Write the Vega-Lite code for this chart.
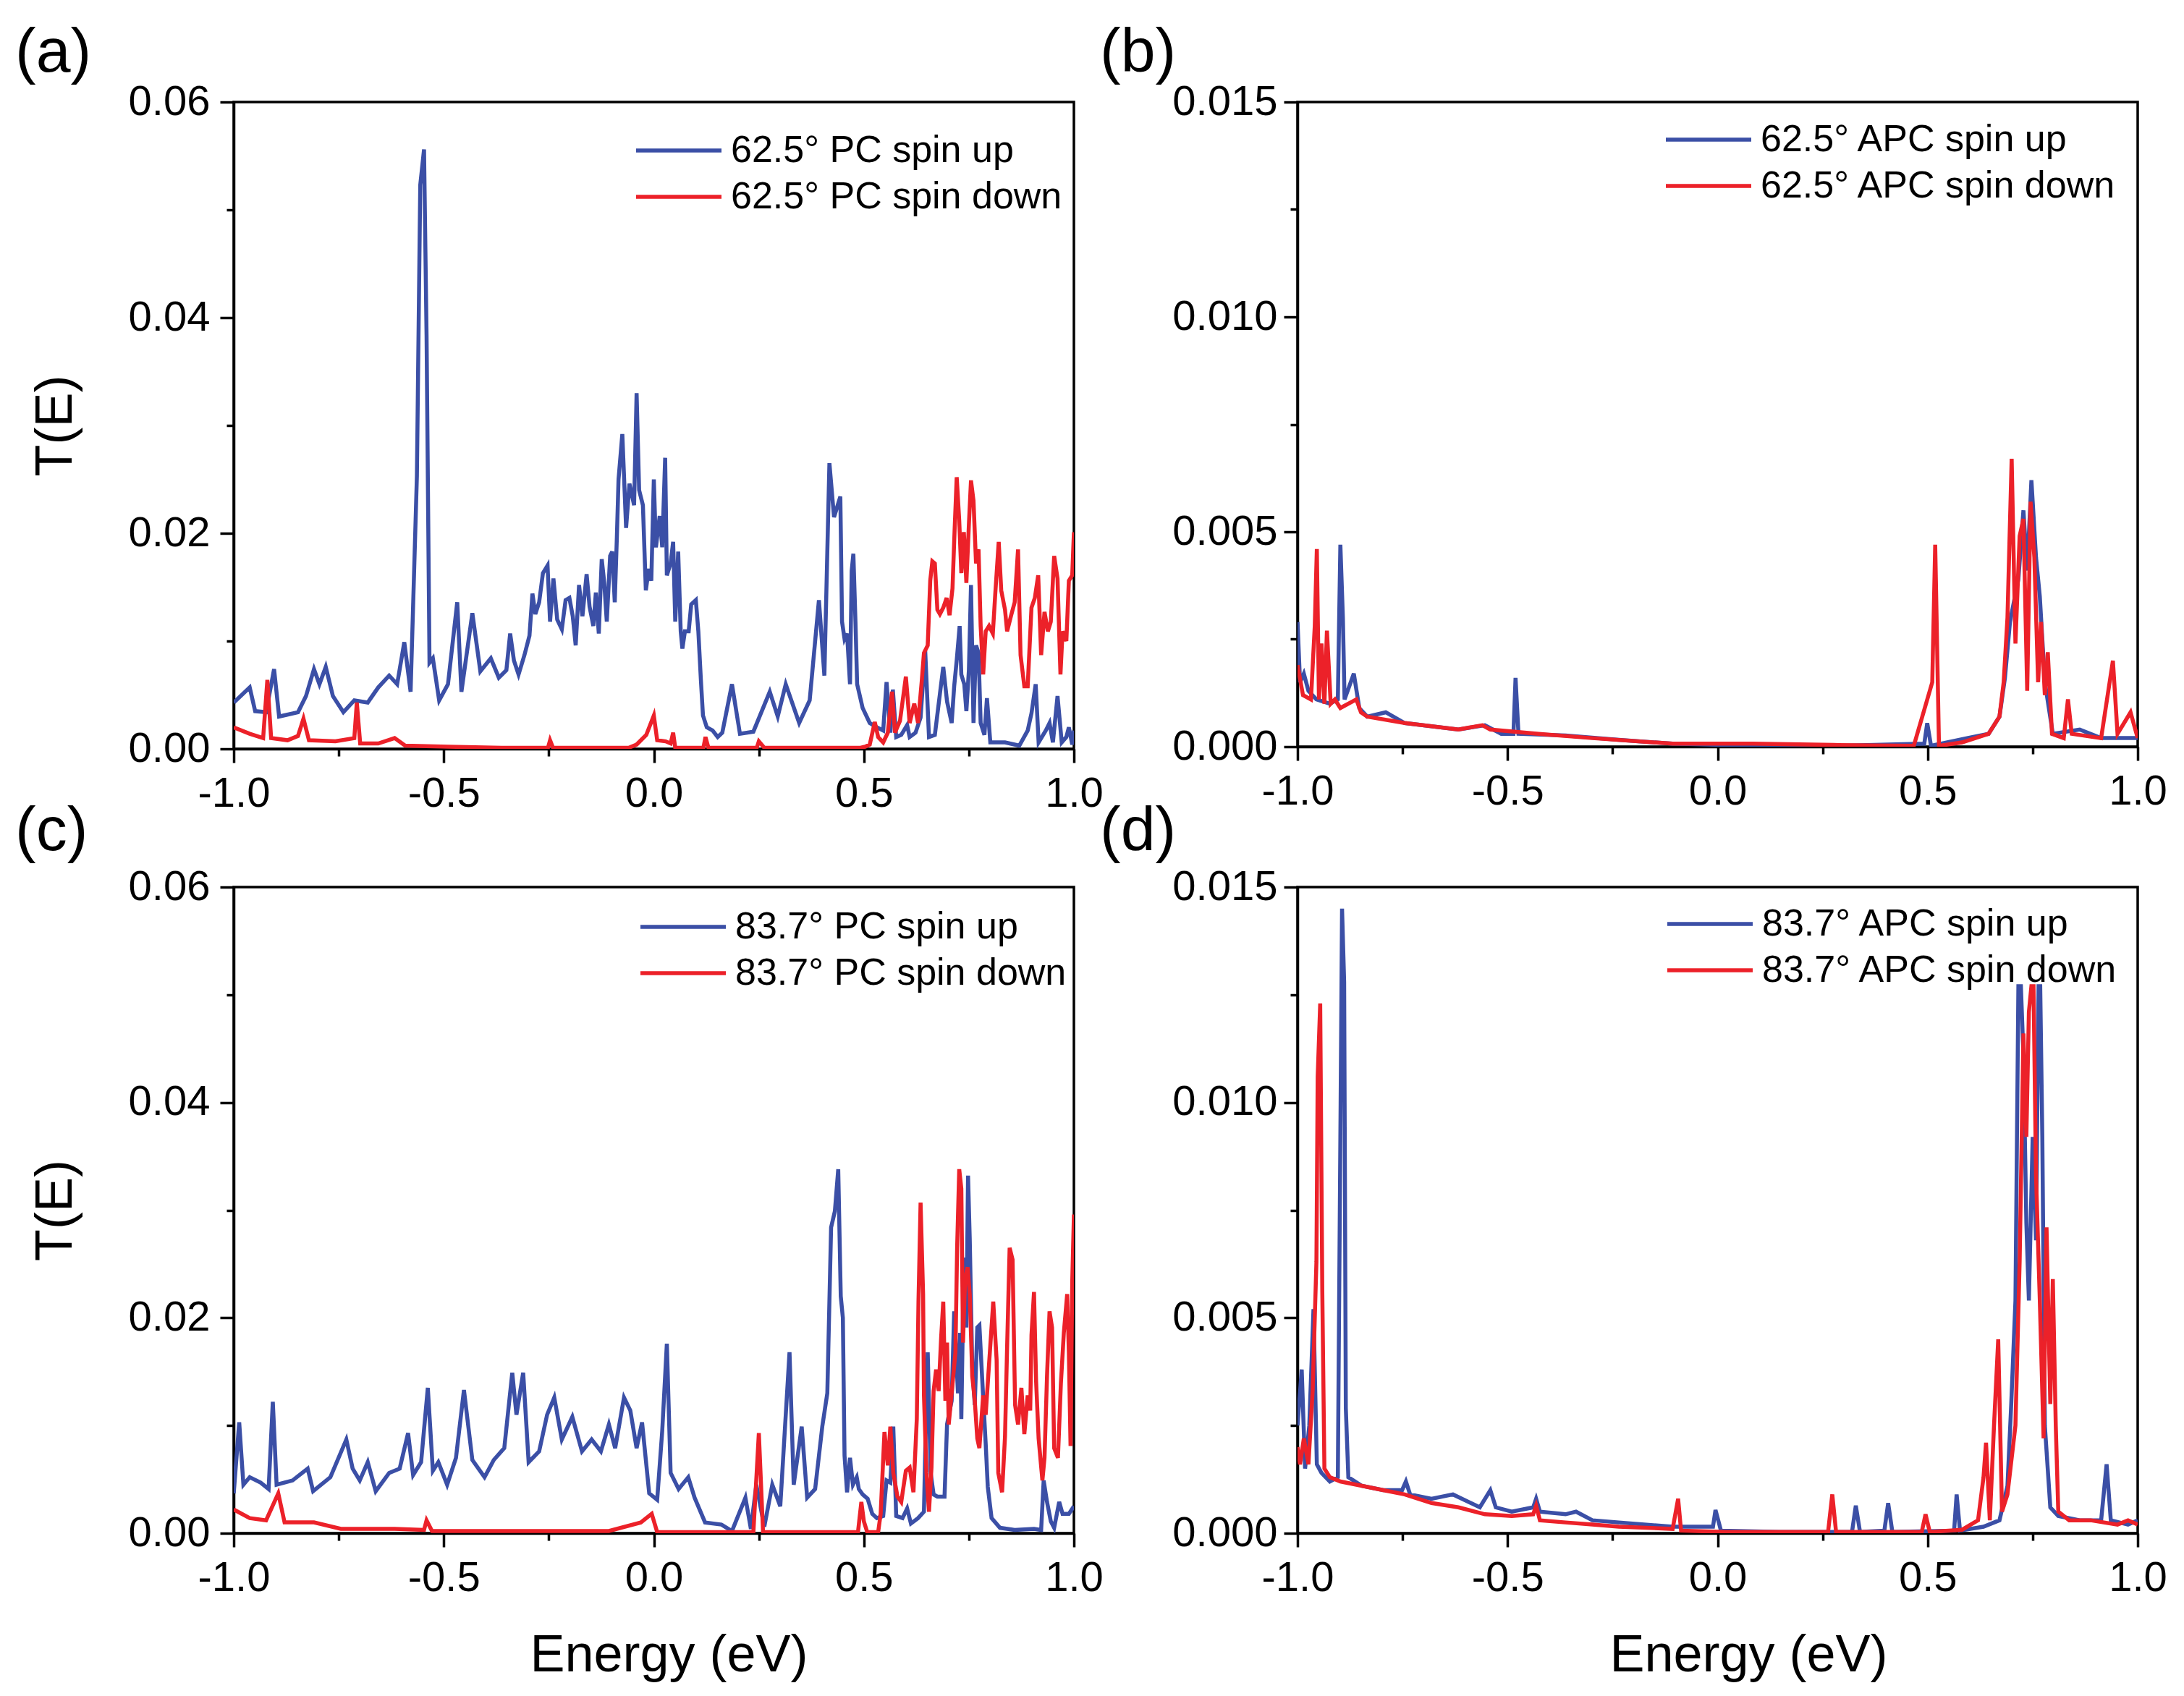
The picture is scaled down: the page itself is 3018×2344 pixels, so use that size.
{
  "$schema": "https://vega.github.io/schema/vega-lite/v6.json",
  "background": "white",
  "padding": {"left": 19, "top": 28, "right": 10, "bottom": 10},
  "datasets": {
    "pa": [
      {"E": -1.000, "T": 0.0043, "s": "up"}, {"E": -0.962, "T": 0.0057, "s": "up"}, {"E": -0.949, "T": 0.0035, "s": "up"},
      {"E": -0.923, "T": 0.0034, "s": "up"}, {"E": -0.904, "T": 0.0074, "s": "up"}, {"E": -0.892, "T": 0.0030, "s": "up"},
      {"E": -0.847, "T": 0.0034, "s": "up"}, {"E": -0.828, "T": 0.0049, "s": "up"}, {"E": -0.809, "T": 0.0074, "s": "up"},
      {"E": -0.796, "T": 0.0060, "s": "up"}, {"E": -0.781, "T": 0.0076, "s": "up"}, {"E": -0.764, "T": 0.0049, "s": "up"},
      {"E": -0.739, "T": 0.0034, "s": "up"}, {"E": -0.713, "T": 0.0045, "s": "up"}, {"E": -0.681, "T": 0.0043, "s": "up"},
      {"E": -0.656, "T": 0.0057, "s": "up"}, {"E": -0.630, "T": 0.0068, "s": "up"}, {"E": -0.611, "T": 0.0060, "s": "up"},
      {"E": -0.594, "T": 0.0099, "s": "up"}, {"E": -0.579, "T": 0.0053, "s": "up"}, {"E": -0.564, "T": 0.0253, "s": "up"},
      {"E": -0.556, "T": 0.0523, "s": "up"}, {"E": -0.547, "T": 0.0556, "s": "up"}, {"E": -0.541, "T": 0.0384, "s": "up"},
      {"E": -0.534, "T": 0.0080, "s": "up"}, {"E": -0.526, "T": 0.0084, "s": "up"}, {"E": -0.511, "T": 0.0045, "s": "up"},
      {"E": -0.490, "T": 0.0060, "s": "up"}, {"E": -0.468, "T": 0.0136, "s": "up"}, {"E": -0.458, "T": 0.0053, "s": "up"},
      {"E": -0.432, "T": 0.0126, "s": "up"}, {"E": -0.413, "T": 0.0072, "s": "up"}, {"E": -0.388, "T": 0.0084, "s": "up"},
      {"E": -0.369, "T": 0.0066, "s": "up"}, {"E": -0.351, "T": 0.0073, "s": "up"}, {"E": -0.342, "T": 0.0107, "s": "up"},
      {"E": -0.333, "T": 0.0082, "s": "up"}, {"E": -0.322, "T": 0.0069, "s": "up"}, {"E": -0.308, "T": 0.0087, "s": "up"},
      {"E": -0.296, "T": 0.0105, "s": "up"}, {"E": -0.289, "T": 0.0144, "s": "up"}, {"E": -0.282, "T": 0.0125, "s": "up"},
      {"E": -0.273, "T": 0.0136, "s": "up"}, {"E": -0.264, "T": 0.0163, "s": "up"}, {"E": -0.253, "T": 0.0170, "s": "up"},
      {"E": -0.247, "T": 0.0118, "s": "up"}, {"E": -0.239, "T": 0.0158, "s": "up"}, {"E": -0.230, "T": 0.0120, "s": "up"},
      {"E": -0.219, "T": 0.0111, "s": "up"}, {"E": -0.210, "T": 0.0138, "s": "up"}, {"E": -0.201, "T": 0.0140, "s": "up"},
      {"E": -0.193, "T": 0.0123, "s": "up"}, {"E": -0.186, "T": 0.0096, "s": "up"}, {"E": -0.178, "T": 0.0152, "s": "up"},
      {"E": -0.170, "T": 0.0123, "s": "up"}, {"E": -0.160, "T": 0.0162, "s": "up"}, {"E": -0.153, "T": 0.0132, "s": "up"},
      {"E": -0.144, "T": 0.0114, "s": "up"}, {"E": -0.138, "T": 0.0145, "s": "up"}, {"E": -0.131, "T": 0.0107, "s": "up"},
      {"E": -0.124, "T": 0.0176, "s": "up"}, {"E": -0.118, "T": 0.0154, "s": "up"}, {"E": -0.112, "T": 0.0118, "s": "up"},
      {"E": -0.104, "T": 0.0179, "s": "up"}, {"E": -0.099, "T": 0.0183, "s": "up"}, {"E": -0.093, "T": 0.0136, "s": "up"},
      {"E": -0.088, "T": 0.0196, "s": "up"}, {"E": -0.084, "T": 0.0250, "s": "up"}, {"E": -0.075, "T": 0.0292, "s": "up"},
      {"E": -0.066, "T": 0.0205, "s": "up"}, {"E": -0.058, "T": 0.0246, "s": "up"}, {"E": -0.047, "T": 0.0226, "s": "up"},
      {"E": -0.041, "T": 0.0330, "s": "up"}, {"E": -0.035, "T": 0.0240, "s": "up"}, {"E": -0.026, "T": 0.0226, "s": "up"},
      {"E": -0.019, "T": 0.0147, "s": "up"}, {"E": -0.012, "T": 0.0167, "s": "up"}, {"E": -0.006, "T": 0.0156, "s": "up"},
      {"E": 0.000, "T": 0.0250, "s": "up"}, {"E": 0.005, "T": 0.0187, "s": "up"}, {"E": 0.014, "T": 0.0216, "s": "up"},
      {"E": 0.020, "T": 0.0187, "s": "up"}, {"E": 0.027, "T": 0.0270, "s": "up"}, {"E": 0.031, "T": 0.0161, "s": "up"},
      {"E": 0.040, "T": 0.0172, "s": "up"}, {"E": 0.046, "T": 0.0192, "s": "up"}, {"E": 0.051, "T": 0.0118, "s": "up"},
      {"E": 0.058, "T": 0.0183, "s": "up"}, {"E": 0.064, "T": 0.0109, "s": "up"}, {"E": 0.068, "T": 0.0093, "s": "up"},
      {"E": 0.074, "T": 0.0109, "s": "up"}, {"E": 0.083, "T": 0.0109, "s": "up"}, {"E": 0.089, "T": 0.0134, "s": "up"},
      {"E": 0.100, "T": 0.0138, "s": "up"}, {"E": 0.106, "T": 0.0109, "s": "up"}, {"E": 0.112, "T": 0.0064, "s": "up"},
      {"E": 0.117, "T": 0.0031, "s": "up"}, {"E": 0.126, "T": 0.0020, "s": "up"}, {"E": 0.140, "T": 0.0017, "s": "up"},
      {"E": 0.152, "T": 0.0011, "s": "up"}, {"E": 0.163, "T": 0.0015, "s": "up"}, {"E": 0.186, "T": 0.0060, "s": "up"},
      {"E": 0.205, "T": 0.0014, "s": "up"}, {"E": 0.237, "T": 0.0016, "s": "up"}, {"E": 0.276, "T": 0.0053, "s": "up"},
      {"E": 0.295, "T": 0.0030, "s": "up"}, {"E": 0.314, "T": 0.0060, "s": "up"}, {"E": 0.346, "T": 0.0024, "s": "up"},
      {"E": 0.371, "T": 0.0045, "s": "up"}, {"E": 0.393, "T": 0.0138, "s": "up"}, {"E": 0.406, "T": 0.0068, "s": "up"},
      {"E": 0.418, "T": 0.0265, "s": "up"}, {"E": 0.429, "T": 0.0215, "s": "up"}, {"E": 0.444, "T": 0.0234, "s": "up"},
      {"E": 0.448, "T": 0.0118, "s": "up"}, {"E": 0.454, "T": 0.0102, "s": "up"}, {"E": 0.460, "T": 0.0107, "s": "up"},
      {"E": 0.467, "T": 0.0060, "s": "up"}, {"E": 0.471, "T": 0.0165, "s": "up"}, {"E": 0.475, "T": 0.0181, "s": "up"},
      {"E": 0.480, "T": 0.0118, "s": "up"}, {"E": 0.484, "T": 0.0060, "s": "up"}, {"E": 0.497, "T": 0.0038, "s": "up"},
      {"E": 0.514, "T": 0.0024, "s": "up"}, {"E": 0.531, "T": 0.0020, "s": "up"}, {"E": 0.546, "T": 0.0017, "s": "up"},
      {"E": 0.554, "T": 0.0062, "s": "up"}, {"E": 0.563, "T": 0.0015, "s": "up"}, {"E": 0.569, "T": 0.0055, "s": "up"},
      {"E": 0.577, "T": 0.0011, "s": "up"}, {"E": 0.589, "T": 0.0013, "s": "up"}, {"E": 0.603, "T": 0.0022, "s": "up"},
      {"E": 0.609, "T": 0.0011, "s": "up"}, {"E": 0.623, "T": 0.0015, "s": "up"}, {"E": 0.635, "T": 0.0029, "s": "up"},
      {"E": 0.646, "T": 0.0091, "s": "up"}, {"E": 0.655, "T": 0.0011, "s": "up"}, {"E": 0.669, "T": 0.0013, "s": "up"},
      {"E": 0.681, "T": 0.0051, "s": "up"}, {"E": 0.689, "T": 0.0076, "s": "up"}, {"E": 0.698, "T": 0.0044, "s": "up"},
      {"E": 0.709, "T": 0.0024, "s": "up"}, {"E": 0.715, "T": 0.0058, "s": "up"}, {"E": 0.721, "T": 0.0082, "s": "up"},
      {"E": 0.728, "T": 0.0114, "s": "up"}, {"E": 0.732, "T": 0.0069, "s": "up"}, {"E": 0.739, "T": 0.0060, "s": "up"},
      {"E": 0.744, "T": 0.0035, "s": "up"}, {"E": 0.750, "T": 0.0073, "s": "up"}, {"E": 0.755, "T": 0.0152, "s": "up"},
      {"E": 0.761, "T": 0.0024, "s": "up"}, {"E": 0.767, "T": 0.0096, "s": "up"}, {"E": 0.773, "T": 0.0089, "s": "up"},
      {"E": 0.778, "T": 0.0024, "s": "up"}, {"E": 0.787, "T": 0.0013, "s": "up"}, {"E": 0.793, "T": 0.0047, "s": "up"},
      {"E": 0.801, "T": 0.0006, "s": "up"}, {"E": 0.836, "T": 0.0006, "s": "up"}, {"E": 0.870, "T": 0.0003, "s": "up"},
      {"E": 0.890, "T": 0.0017, "s": "up"}, {"E": 0.899, "T": 0.0033, "s": "up"}, {"E": 0.909, "T": 0.0060, "s": "up"},
      {"E": 0.916, "T": 0.0006, "s": "up"}, {"E": 0.933, "T": 0.0017, "s": "up"}, {"E": 0.942, "T": 0.0024, "s": "up"},
      {"E": 0.950, "T": 0.0006, "s": "up"}, {"E": 0.961, "T": 0.0049, "s": "up"}, {"E": 0.971, "T": 0.0006, "s": "up"},
      {"E": 0.982, "T": 0.0011, "s": "up"}, {"E": 0.988, "T": 0.0020, "s": "up"}, {"E": 0.996, "T": 0.0004, "s": "up"},
      {"E": 1.000, "T": 0.0017, "s": "up"},
      {"E": -1.000, "T": 0.0020, "s": "down"}, {"E": -0.962, "T": 0.0014, "s": "down"}, {"E": -0.930, "T": 0.0010, "s": "down"},
      {"E": -0.920, "T": 0.0064, "s": "down"}, {"E": -0.911, "T": 0.0010, "s": "down"}, {"E": -0.872, "T": 0.0008, "s": "down"},
      {"E": -0.847, "T": 0.0012, "s": "down"}, {"E": -0.834, "T": 0.0028, "s": "down"}, {"E": -0.821, "T": 0.0008, "s": "down"},
      {"E": -0.758, "T": 0.0007, "s": "down"}, {"E": -0.713, "T": 0.0010, "s": "down"}, {"E": -0.707, "T": 0.0043, "s": "down"},
      {"E": -0.699, "T": 0.0005, "s": "down"}, {"E": -0.656, "T": 0.0005, "s": "down"}, {"E": -0.617, "T": 0.0010, "s": "down"},
      {"E": -0.592, "T": 0.0003, "s": "down"}, {"E": -0.490, "T": 0.0002, "s": "down"}, {"E": -0.362, "T": 0.0001, "s": "down"},
      {"E": -0.252, "T": 0.0001, "s": "down"}, {"E": -0.247, "T": 0.0008, "s": "down"}, {"E": -0.240, "T": 0.0001, "s": "down"},
      {"E": -0.060, "T": 0.0001, "s": "down"}, {"E": -0.041, "T": 0.0004, "s": "down"}, {"E": -0.018, "T": 0.0013, "s": "down"},
      {"E": 0.000, "T": 0.0031, "s": "down"}, {"E": 0.008, "T": 0.0008, "s": "down"}, {"E": 0.028, "T": 0.0007, "s": "down"},
      {"E": 0.040, "T": 0.0005, "s": "down"}, {"E": 0.046, "T": 0.0015, "s": "down"}, {"E": 0.051, "T": 0.0001, "s": "down"},
      {"E": 0.118, "T": 0.0001, "s": "down"}, {"E": 0.123, "T": 0.0011, "s": "down"}, {"E": 0.130, "T": 0.0001, "s": "down"},
      {"E": 0.245, "T": 0.0001, "s": "down"}, {"E": 0.250, "T": 0.0007, "s": "down"}, {"E": 0.263, "T": 0.0001, "s": "down"},
      {"E": 0.492, "T": 0.0001, "s": "down"}, {"E": 0.503, "T": 0.0002, "s": "down"}, {"E": 0.514, "T": 0.0004, "s": "down"},
      {"E": 0.526, "T": 0.0025, "s": "down"}, {"E": 0.534, "T": 0.0011, "s": "down"}, {"E": 0.546, "T": 0.0006, "s": "down"},
      {"E": 0.557, "T": 0.0015, "s": "down"}, {"E": 0.567, "T": 0.0053, "s": "down"}, {"E": 0.574, "T": 0.0015, "s": "down"},
      {"E": 0.586, "T": 0.0026, "s": "down"}, {"E": 0.600, "T": 0.0067, "s": "down"}, {"E": 0.609, "T": 0.0024, "s": "down"},
      {"E": 0.620, "T": 0.0042, "s": "down"}, {"E": 0.629, "T": 0.0024, "s": "down"}, {"E": 0.638, "T": 0.0064, "s": "down"},
      {"E": 0.643, "T": 0.0089, "s": "down"}, {"E": 0.652, "T": 0.0096, "s": "down"}, {"E": 0.658, "T": 0.0156, "s": "down"},
      {"E": 0.663, "T": 0.0174, "s": "down"}, {"E": 0.669, "T": 0.0172, "s": "down"}, {"E": 0.675, "T": 0.0129, "s": "down"},
      {"E": 0.681, "T": 0.0125, "s": "down"}, {"E": 0.689, "T": 0.0131, "s": "down"}, {"E": 0.697, "T": 0.0140, "s": "down"},
      {"E": 0.704, "T": 0.0124, "s": "down"}, {"E": 0.711, "T": 0.0149, "s": "down"}, {"E": 0.716, "T": 0.0203, "s": "down"},
      {"E": 0.721, "T": 0.0252, "s": "down"}, {"E": 0.727, "T": 0.0212, "s": "down"}, {"E": 0.732, "T": 0.0163, "s": "down"},
      {"E": 0.738, "T": 0.0201, "s": "down"}, {"E": 0.744, "T": 0.0154, "s": "down"}, {"E": 0.750, "T": 0.0208, "s": "down"},
      {"E": 0.755, "T": 0.0249, "s": "down"}, {"E": 0.761, "T": 0.0230, "s": "down"}, {"E": 0.767, "T": 0.0172, "s": "down"},
      {"E": 0.773, "T": 0.0185, "s": "down"}, {"E": 0.778, "T": 0.0114, "s": "down"}, {"E": 0.784, "T": 0.0069, "s": "down"},
      {"E": 0.790, "T": 0.0109, "s": "down"}, {"E": 0.798, "T": 0.0114, "s": "down"}, {"E": 0.807, "T": 0.0107, "s": "down"},
      {"E": 0.813, "T": 0.0145, "s": "down"}, {"E": 0.821, "T": 0.0192, "s": "down"}, {"E": 0.827, "T": 0.0147, "s": "down"},
      {"E": 0.836, "T": 0.0129, "s": "down"}, {"E": 0.841, "T": 0.0109, "s": "down"}, {"E": 0.850, "T": 0.0123, "s": "down"},
      {"E": 0.859, "T": 0.0136, "s": "down"}, {"E": 0.867, "T": 0.0185, "s": "down"}, {"E": 0.873, "T": 0.0087, "s": "down"},
      {"E": 0.882, "T": 0.0058, "s": "down"}, {"E": 0.890, "T": 0.0058, "s": "down"}, {"E": 0.899, "T": 0.0131, "s": "down"},
      {"E": 0.907, "T": 0.0140, "s": "down"}, {"E": 0.915, "T": 0.0161, "s": "down"}, {"E": 0.922, "T": 0.0087, "s": "down"},
      {"E": 0.930, "T": 0.0127, "s": "down"}, {"E": 0.938, "T": 0.0109, "s": "down"}, {"E": 0.945, "T": 0.0118, "s": "down"},
      {"E": 0.953, "T": 0.0179, "s": "down"}, {"E": 0.961, "T": 0.0158, "s": "down"}, {"E": 0.968, "T": 0.0069, "s": "down"},
      {"E": 0.973, "T": 0.0109, "s": "down"}, {"E": 0.982, "T": 0.0100, "s": "down"}, {"E": 0.988, "T": 0.0156, "s": "down"},
      {"E": 0.996, "T": 0.0161, "s": "down"}, {"E": 1.000, "T": 0.0201, "s": "down"}
    ],
    "pb": [
      {"E": -1.000, "T": 0.0029, "s": "up"}, {"E": -0.994, "T": 0.0015, "s": "up"}, {"E": -0.985, "T": 0.0017, "s": "up"},
      {"E": -0.974, "T": 0.0013, "s": "up"}, {"E": -0.955, "T": 0.0011, "s": "up"}, {"E": -0.923, "T": 0.0010, "s": "up"},
      {"E": -0.904, "T": 0.0011, "s": "up"}, {"E": -0.898, "T": 0.0047, "s": "up"}, {"E": -0.892, "T": 0.0030, "s": "up"},
      {"E": -0.888, "T": 0.0011, "s": "up"}, {"E": -0.866, "T": 0.0017, "s": "up"}, {"E": -0.853, "T": 0.0009, "s": "up"},
      {"E": -0.834, "T": 0.0007, "s": "up"}, {"E": -0.790, "T": 0.0008, "s": "up"}, {"E": -0.745, "T": 0.00055, "s": "up"},
      {"E": -0.617, "T": 0.0004, "s": "up"}, {"E": -0.554, "T": 0.0005, "s": "up"}, {"E": -0.515, "T": 0.0003, "s": "up"},
      {"E": -0.486, "T": 0.0003, "s": "up"}, {"E": -0.481, "T": 0.0016, "s": "up"}, {"E": -0.474, "T": 0.0003, "s": "up"},
      {"E": -0.362, "T": 0.00026, "s": "up"}, {"E": -0.235, "T": 0.00016, "s": "up"}, {"E": -0.107, "T": 0.00007, "s": "up"},
      {"E": 0.020, "T": 0.00004, "s": "up"}, {"E": 0.276, "T": 0.00002, "s": "up"}, {"E": 0.492, "T": 0.00007, "s": "up"},
      {"E": 0.499, "T": 0.00055, "s": "up"}, {"E": 0.508, "T": 0.00002, "s": "up"}, {"E": 0.594, "T": 0.0002, "s": "up"},
      {"E": 0.645, "T": 0.0003, "s": "up"}, {"E": 0.671, "T": 0.0007, "s": "up"}, {"E": 0.684, "T": 0.0016, "s": "up"},
      {"E": 0.696, "T": 0.0029, "s": "up"}, {"E": 0.716, "T": 0.0039, "s": "up"}, {"E": 0.728, "T": 0.0055, "s": "up"},
      {"E": 0.737, "T": 0.0041, "s": "up"}, {"E": 0.747, "T": 0.0062, "s": "up"}, {"E": 0.758, "T": 0.0044, "s": "up"},
      {"E": 0.767, "T": 0.0035, "s": "up"}, {"E": 0.779, "T": 0.0015, "s": "up"}, {"E": 0.798, "T": 0.0003, "s": "up"},
      {"E": 0.862, "T": 0.0004, "s": "up"}, {"E": 0.913, "T": 0.0002, "s": "up"}, {"E": 1.000, "T": 0.0002, "s": "up"},
      {"E": -1.000, "T": 0.0019, "s": "down"}, {"E": -0.987, "T": 0.0012, "s": "down"}, {"E": -0.968, "T": 0.0011, "s": "down"},
      {"E": -0.959, "T": 0.0028, "s": "down"}, {"E": -0.954, "T": 0.0046, "s": "down"}, {"E": -0.949, "T": 0.0011, "s": "down"},
      {"E": -0.943, "T": 0.0024, "s": "down"}, {"E": -0.936, "T": 0.0010, "s": "down"}, {"E": -0.930, "T": 0.0027, "s": "down"},
      {"E": -0.921, "T": 0.0010, "s": "down"}, {"E": -0.911, "T": 0.0011, "s": "down"}, {"E": -0.898, "T": 0.0009, "s": "down"},
      {"E": -0.860, "T": 0.0011, "s": "down"}, {"E": -0.849, "T": 0.0008, "s": "down"}, {"E": -0.834, "T": 0.0007, "s": "down"},
      {"E": -0.745, "T": 0.00055, "s": "down"}, {"E": -0.617, "T": 0.0004, "s": "down"}, {"E": -0.560, "T": 0.0005, "s": "down"},
      {"E": -0.541, "T": 0.0004, "s": "down"}, {"E": -0.426, "T": 0.0003, "s": "down"}, {"E": -0.298, "T": 0.0002, "s": "down"},
      {"E": -0.107, "T": 0.00007, "s": "down"}, {"E": 0.084, "T": 0.00007, "s": "down"}, {"E": 0.276, "T": 0.00004, "s": "down"},
      {"E": 0.467, "T": 0.00002, "s": "down"}, {"E": 0.511, "T": 0.0015, "s": "down"}, {"E": 0.518, "T": 0.0047, "s": "down"},
      {"E": 0.527, "T": 0.00002, "s": "down"}, {"E": 0.582, "T": 0.0001, "s": "down"}, {"E": 0.645, "T": 0.0003, "s": "down"},
      {"E": 0.671, "T": 0.0007, "s": "down"}, {"E": 0.681, "T": 0.0015, "s": "down"}, {"E": 0.690, "T": 0.0030, "s": "down"},
      {"E": 0.700, "T": 0.0067, "s": "down"}, {"E": 0.709, "T": 0.0024, "s": "down"}, {"E": 0.719, "T": 0.0049, "s": "down"},
      {"E": 0.728, "T": 0.0053, "s": "down"}, {"E": 0.737, "T": 0.0013, "s": "down"}, {"E": 0.745, "T": 0.0057, "s": "down"},
      {"E": 0.754, "T": 0.0044, "s": "down"}, {"E": 0.763, "T": 0.0015, "s": "down"}, {"E": 0.770, "T": 0.0029, "s": "down"},
      {"E": 0.779, "T": 0.0012, "s": "down"}, {"E": 0.786, "T": 0.0022, "s": "down"}, {"E": 0.796, "T": 0.0003, "s": "down"},
      {"E": 0.824, "T": 0.0002, "s": "down"}, {"E": 0.834, "T": 0.0011, "s": "down"}, {"E": 0.843, "T": 0.0003, "s": "down"},
      {"E": 0.913, "T": 0.0002, "s": "down"}, {"E": 0.941, "T": 0.0020, "s": "down"}, {"E": 0.952, "T": 0.0003, "s": "down"},
      {"E": 0.983, "T": 0.0008, "s": "down"}, {"E": 1.000, "T": 0.0002, "s": "down"}
    ],
    "pc": [
      {"E": -1.000, "T": 0.0037, "s": "up"}, {"E": -0.987, "T": 0.0103, "s": "up"}, {"E": -0.977, "T": 0.0045, "s": "up"},
      {"E": -0.962, "T": 0.0052, "s": "up"}, {"E": -0.936, "T": 0.0047, "s": "up"}, {"E": -0.917, "T": 0.0041, "s": "up"},
      {"E": -0.907, "T": 0.0122, "s": "up"}, {"E": -0.898, "T": 0.0045, "s": "up"}, {"E": -0.860, "T": 0.0049, "s": "up"},
      {"E": -0.824, "T": 0.0060, "s": "up"}, {"E": -0.811, "T": 0.0039, "s": "up"}, {"E": -0.770, "T": 0.0052, "s": "up"},
      {"E": -0.732, "T": 0.0087, "s": "up"}, {"E": -0.717, "T": 0.0060, "s": "up"}, {"E": -0.700, "T": 0.0049, "s": "up"},
      {"E": -0.681, "T": 0.0066, "s": "up"}, {"E": -0.662, "T": 0.0039, "s": "up"}, {"E": -0.630, "T": 0.0056, "s": "up"},
      {"E": -0.605, "T": 0.0060, "s": "up"}, {"E": -0.585, "T": 0.0093, "s": "up"}, {"E": -0.573, "T": 0.0054, "s": "up"},
      {"E": -0.554, "T": 0.0066, "s": "up"}, {"E": -0.538, "T": 0.0135, "s": "up"}, {"E": -0.526, "T": 0.0058, "s": "up"},
      {"E": -0.513, "T": 0.0066, "s": "up"}, {"E": -0.492, "T": 0.0045, "s": "up"}, {"E": -0.471, "T": 0.0070, "s": "up"},
      {"E": -0.452, "T": 0.0133, "s": "up"}, {"E": -0.432, "T": 0.0068, "s": "up"}, {"E": -0.403, "T": 0.0052, "s": "up"},
      {"E": -0.381, "T": 0.0068, "s": "up"}, {"E": -0.356, "T": 0.0079, "s": "up"}, {"E": -0.337, "T": 0.0149, "s": "up"},
      {"E": -0.327, "T": 0.0110, "s": "up"}, {"E": -0.311, "T": 0.0149, "s": "up"}, {"E": -0.298, "T": 0.0066, "s": "up"},
      {"E": -0.273, "T": 0.0076, "s": "up"}, {"E": -0.254, "T": 0.0110, "s": "up"}, {"E": -0.237, "T": 0.0126, "s": "up"},
      {"E": -0.219, "T": 0.0087, "s": "up"}, {"E": -0.194, "T": 0.0108, "s": "up"}, {"E": -0.171, "T": 0.0076, "s": "up"},
      {"E": -0.148, "T": 0.0087, "s": "up"}, {"E": -0.126, "T": 0.0076, "s": "up"}, {"E": -0.107, "T": 0.0101, "s": "up"},
      {"E": -0.092, "T": 0.0079, "s": "up"}, {"E": -0.071, "T": 0.0126, "s": "up"}, {"E": -0.056, "T": 0.0114, "s": "up"},
      {"E": -0.041, "T": 0.0079, "s": "up"}, {"E": -0.028, "T": 0.0103, "s": "up"}, {"E": -0.011, "T": 0.0037, "s": "up"},
      {"E": 0.008, "T": 0.0031, "s": "up"}, {"E": 0.020, "T": 0.0095, "s": "up"}, {"E": 0.031, "T": 0.0176, "s": "up"},
      {"E": 0.040, "T": 0.0056, "s": "up"}, {"E": 0.059, "T": 0.0041, "s": "up"}, {"E": 0.082, "T": 0.0052, "s": "up"},
      {"E": 0.097, "T": 0.0033, "s": "up"}, {"E": 0.122, "T": 0.0010, "s": "up"}, {"E": 0.161, "T": 0.0008, "s": "up"},
      {"E": 0.186, "T": 0.0002, "s": "up"}, {"E": 0.218, "T": 0.0033, "s": "up"}, {"E": 0.231, "T": 0.0004, "s": "up"},
      {"E": 0.244, "T": 0.0045, "s": "up"}, {"E": 0.263, "T": 0.0006, "s": "up"}, {"E": 0.282, "T": 0.0045, "s": "up"},
      {"E": 0.301, "T": 0.0025, "s": "up"}, {"E": 0.323, "T": 0.0168, "s": "up"}, {"E": 0.333, "T": 0.0045, "s": "up"},
      {"E": 0.352, "T": 0.0099, "s": "up"}, {"E": 0.365, "T": 0.0033, "s": "up"}, {"E": 0.384, "T": 0.0041, "s": "up"},
      {"E": 0.401, "T": 0.0099, "s": "up"}, {"E": 0.413, "T": 0.0130, "s": "up"}, {"E": 0.422, "T": 0.0284, "s": "up"},
      {"E": 0.431, "T": 0.0299, "s": "up"}, {"E": 0.439, "T": 0.0338, "s": "up"}, {"E": 0.445, "T": 0.0220, "s": "up"},
      {"E": 0.450, "T": 0.0200, "s": "up"}, {"E": 0.454, "T": 0.0072, "s": "up"}, {"E": 0.460, "T": 0.0038, "s": "up"},
      {"E": 0.467, "T": 0.0070, "s": "up"}, {"E": 0.474, "T": 0.0045, "s": "up"}, {"E": 0.483, "T": 0.0052, "s": "up"},
      {"E": 0.488, "T": 0.0041, "s": "up"}, {"E": 0.497, "T": 0.0036, "s": "up"}, {"E": 0.509, "T": 0.0032, "s": "up"},
      {"E": 0.520, "T": 0.0018, "s": "up"}, {"E": 0.531, "T": 0.0014, "s": "up"}, {"E": 0.546, "T": 0.0016, "s": "up"},
      {"E": 0.554, "T": 0.0049, "s": "up"}, {"E": 0.563, "T": 0.0047, "s": "up"}, {"E": 0.570, "T": 0.0099, "s": "up"},
      {"E": 0.577, "T": 0.0016, "s": "up"}, {"E": 0.592, "T": 0.0014, "s": "up"}, {"E": 0.603, "T": 0.0023, "s": "up"},
      {"E": 0.612, "T": 0.0009, "s": "up"}, {"E": 0.629, "T": 0.0014, "s": "up"}, {"E": 0.643, "T": 0.0020, "s": "up"},
      {"E": 0.646, "T": 0.0074, "s": "up"}, {"E": 0.652, "T": 0.0168, "s": "up"}, {"E": 0.659, "T": 0.0056, "s": "up"},
      {"E": 0.666, "T": 0.0036, "s": "up"}, {"E": 0.675, "T": 0.0034, "s": "up"}, {"E": 0.692, "T": 0.0034, "s": "up"},
      {"E": 0.698, "T": 0.0101, "s": "up"}, {"E": 0.709, "T": 0.0123, "s": "up"}, {"E": 0.715, "T": 0.0206, "s": "up"},
      {"E": 0.724, "T": 0.0130, "s": "up"}, {"E": 0.729, "T": 0.0186, "s": "up"}, {"E": 0.732, "T": 0.0106, "s": "up"},
      {"E": 0.738, "T": 0.0256, "s": "up"}, {"E": 0.744, "T": 0.0191, "s": "up"}, {"E": 0.748, "T": 0.0332, "s": "up"},
      {"E": 0.752, "T": 0.0274, "s": "up"}, {"E": 0.758, "T": 0.0155, "s": "up"}, {"E": 0.764, "T": 0.0119, "s": "up"},
      {"E": 0.770, "T": 0.0191, "s": "up"}, {"E": 0.775, "T": 0.0193, "s": "up"}, {"E": 0.784, "T": 0.0126, "s": "up"},
      {"E": 0.790, "T": 0.0083, "s": "up"}, {"E": 0.795, "T": 0.0043, "s": "up"}, {"E": 0.804, "T": 0.0014, "s": "up"},
      {"E": 0.824, "T": 0.0005, "s": "up"}, {"E": 0.859, "T": 0.0003, "s": "up"}, {"E": 0.905, "T": 0.0004, "s": "up"},
      {"E": 0.922, "T": 0.0003, "s": "up"}, {"E": 0.928, "T": 0.0049, "s": "up"}, {"E": 0.936, "T": 0.0029, "s": "up"},
      {"E": 0.945, "T": 0.0011, "s": "up"}, {"E": 0.953, "T": 0.0005, "s": "up"}, {"E": 0.965, "T": 0.0029, "s": "up"},
      {"E": 0.973, "T": 0.0018, "s": "up"}, {"E": 0.988, "T": 0.0018, "s": "up"}, {"E": 1.000, "T": 0.0025, "s": "up"},
      {"E": -1.000, "T": 0.0022, "s": "down"}, {"E": -0.962, "T": 0.0014, "s": "down"}, {"E": -0.923, "T": 0.0012, "s": "down"},
      {"E": -0.894, "T": 0.0037, "s": "down"}, {"E": -0.879, "T": 0.0010, "s": "down"}, {"E": -0.809, "T": 0.0010, "s": "down"},
      {"E": -0.745, "T": 0.0004, "s": "down"}, {"E": -0.617, "T": 0.0004, "s": "down"}, {"E": -0.547, "T": 0.0003, "s": "down"},
      {"E": -0.541, "T": 0.0012, "s": "down"}, {"E": -0.528, "T": 0.0002, "s": "down"}, {"E": -0.362, "T": 0.0002, "s": "down"},
      {"E": -0.107, "T": 0.0002, "s": "down"}, {"E": -0.031, "T": 0.0010, "s": "down"}, {"E": -0.005, "T": 0.0018, "s": "down"},
      {"E": 0.008, "T": 0.0001, "s": "down"}, {"E": 0.237, "T": 0.0001, "s": "down"}, {"E": 0.250, "T": 0.0093, "s": "down"},
      {"E": 0.260, "T": 0.0001, "s": "down"}, {"E": 0.486, "T": 0.0001, "s": "down"}, {"E": 0.494, "T": 0.0029, "s": "down"},
      {"E": 0.500, "T": 0.0011, "s": "down"}, {"E": 0.508, "T": 0.0001, "s": "down"}, {"E": 0.534, "T": 0.0001, "s": "down"},
      {"E": 0.540, "T": 0.0018, "s": "down"}, {"E": 0.549, "T": 0.0094, "s": "down"}, {"E": 0.557, "T": 0.0063, "s": "down"},
      {"E": 0.563, "T": 0.0099, "s": "down"}, {"E": 0.570, "T": 0.0056, "s": "down"}, {"E": 0.580, "T": 0.0034, "s": "down"},
      {"E": 0.589, "T": 0.0029, "s": "down"}, {"E": 0.600, "T": 0.0058, "s": "down"}, {"E": 0.609, "T": 0.0061, "s": "down"},
      {"E": 0.618, "T": 0.0038, "s": "down"}, {"E": 0.626, "T": 0.0106, "s": "down"}, {"E": 0.630, "T": 0.0215, "s": "down"},
      {"E": 0.635, "T": 0.0307, "s": "down"}, {"E": 0.641, "T": 0.0222, "s": "down"}, {"E": 0.643, "T": 0.0128, "s": "down"},
      {"E": 0.649, "T": 0.0056, "s": "down"}, {"E": 0.655, "T": 0.0020, "s": "down"}, {"E": 0.661, "T": 0.0061, "s": "down"},
      {"E": 0.666, "T": 0.0132, "s": "down"}, {"E": 0.672, "T": 0.0152, "s": "down"}, {"E": 0.678, "T": 0.0132, "s": "down"},
      {"E": 0.684, "T": 0.0182, "s": "down"}, {"E": 0.689, "T": 0.0215, "s": "down"}, {"E": 0.694, "T": 0.0123, "s": "down"},
      {"E": 0.698, "T": 0.0177, "s": "down"}, {"E": 0.702, "T": 0.0101, "s": "down"}, {"E": 0.709, "T": 0.0130, "s": "down"},
      {"E": 0.718, "T": 0.0168, "s": "down"}, {"E": 0.722, "T": 0.0265, "s": "down"}, {"E": 0.727, "T": 0.0338, "s": "down"},
      {"E": 0.732, "T": 0.0320, "s": "down"}, {"E": 0.736, "T": 0.0177, "s": "down"}, {"E": 0.741, "T": 0.0236, "s": "down"},
      {"E": 0.747, "T": 0.0247, "s": "down"}, {"E": 0.752, "T": 0.0222, "s": "down"}, {"E": 0.758, "T": 0.0146, "s": "down"},
      {"E": 0.764, "T": 0.0123, "s": "down"}, {"E": 0.770, "T": 0.0088, "s": "down"}, {"E": 0.775, "T": 0.0079, "s": "down"},
      {"E": 0.784, "T": 0.0128, "s": "down"}, {"E": 0.790, "T": 0.0110, "s": "down"}, {"E": 0.798, "T": 0.0157, "s": "down"},
      {"E": 0.808, "T": 0.0215, "s": "down"}, {"E": 0.816, "T": 0.0161, "s": "down"}, {"E": 0.820, "T": 0.0056, "s": "down"},
      {"E": 0.829, "T": 0.0038, "s": "down"}, {"E": 0.836, "T": 0.0090, "s": "down"}, {"E": 0.841, "T": 0.0173, "s": "down"},
      {"E": 0.847, "T": 0.0265, "s": "down"}, {"E": 0.854, "T": 0.0254, "s": "down"}, {"E": 0.860, "T": 0.0119, "s": "down"},
      {"E": 0.867, "T": 0.0101, "s": "down"}, {"E": 0.875, "T": 0.0135, "s": "down"}, {"E": 0.882, "T": 0.0092, "s": "down"},
      {"E": 0.890, "T": 0.0128, "s": "down"}, {"E": 0.896, "T": 0.0114, "s": "down"}, {"E": 0.899, "T": 0.0184, "s": "down"},
      {"E": 0.905, "T": 0.0224, "s": "down"}, {"E": 0.910, "T": 0.0141, "s": "down"}, {"E": 0.916, "T": 0.0088, "s": "down"},
      {"E": 0.925, "T": 0.0049, "s": "down"}, {"E": 0.930, "T": 0.0070, "s": "down"}, {"E": 0.936, "T": 0.0146, "s": "down"},
      {"E": 0.942, "T": 0.0206, "s": "down"}, {"E": 0.948, "T": 0.0191, "s": "down"}, {"E": 0.953, "T": 0.0079, "s": "down"},
      {"E": 0.962, "T": 0.0070, "s": "down"}, {"E": 0.969, "T": 0.0139, "s": "down"}, {"E": 0.976, "T": 0.0186, "s": "down"},
      {"E": 0.984, "T": 0.0222, "s": "down"}, {"E": 0.988, "T": 0.0168, "s": "down"}, {"E": 0.992, "T": 0.0081, "s": "down"},
      {"E": 0.996, "T": 0.0233, "s": "down"}, {"E": 1.000, "T": 0.0296, "s": "down"}
    ],
    "pd": [
      {"E": -1.000, "T": 0.0025, "s": "up"}, {"E": -0.990, "T": 0.0038, "s": "up"}, {"E": -0.982, "T": 0.0015, "s": "up"},
      {"E": -0.972, "T": 0.0025, "s": "up"}, {"E": -0.962, "T": 0.0052, "s": "up"}, {"E": -0.954, "T": 0.0016, "s": "up"},
      {"E": -0.943, "T": 0.0014, "s": "up"}, {"E": -0.923, "T": 0.0012, "s": "up"}, {"E": -0.904, "T": 0.0013, "s": "up"},
      {"E": -0.898, "T": 0.0092, "s": "up"}, {"E": -0.894, "T": 0.0145, "s": "up"}, {"E": -0.889, "T": 0.0128, "s": "up"},
      {"E": -0.885, "T": 0.0029, "s": "up"}, {"E": -0.879, "T": 0.0013, "s": "up"}, {"E": -0.847, "T": 0.0011, "s": "up"},
      {"E": -0.796, "T": 0.0010, "s": "up"}, {"E": -0.751, "T": 0.0010, "s": "up"}, {"E": -0.742, "T": 0.0012, "s": "up"},
      {"E": -0.732, "T": 0.0009, "s": "up"}, {"E": -0.681, "T": 0.0008, "s": "up"}, {"E": -0.630, "T": 0.0009, "s": "up"},
      {"E": -0.566, "T": 0.0006, "s": "up"}, {"E": -0.541, "T": 0.0010, "s": "up"}, {"E": -0.528, "T": 0.0006, "s": "up"},
      {"E": -0.490, "T": 0.0005, "s": "up"}, {"E": -0.439, "T": 0.0006, "s": "up"}, {"E": -0.432, "T": 0.0008, "s": "up"},
      {"E": -0.423, "T": 0.0005, "s": "up"}, {"E": -0.362, "T": 0.00044, "s": "up"}, {"E": -0.337, "T": 0.0005, "s": "up"},
      {"E": -0.298, "T": 0.0003, "s": "up"}, {"E": -0.235, "T": 0.00025, "s": "up"}, {"E": -0.107, "T": 0.00015, "s": "up"},
      {"E": -0.011, "T": 0.00015, "s": "up"}, {"E": -0.005, "T": 0.00054, "s": "up"}, {"E": 0.008, "T": 0.00006, "s": "up"},
      {"E": 0.148, "T": 0.00003, "s": "up"}, {"E": 0.320, "T": 0.00003, "s": "up"}, {"E": 0.329, "T": 0.00064, "s": "up"},
      {"E": 0.339, "T": 0.00003, "s": "up"}, {"E": 0.397, "T": 0.00006, "s": "up"}, {"E": 0.406, "T": 0.0007, "s": "up"},
      {"E": 0.416, "T": 0.00003, "s": "up"}, {"E": 0.563, "T": 0.00006, "s": "up"}, {"E": 0.569, "T": 0.0009, "s": "up"},
      {"E": 0.577, "T": 0.00006, "s": "up"}, {"E": 0.633, "T": 0.00015, "s": "up"}, {"E": 0.671, "T": 0.0003, "s": "up"},
      {"E": 0.690, "T": 0.0011, "s": "up"}, {"E": 0.699, "T": 0.0030, "s": "up"}, {"E": 0.709, "T": 0.0054, "s": "up"},
      {"E": 0.716, "T": 0.0127, "s": "up"}, {"E": 0.722, "T": 0.0127, "s": "up"}, {"E": 0.728, "T": 0.0111, "s": "up"},
      {"E": 0.735, "T": 0.0072, "s": "up"}, {"E": 0.741, "T": 0.0054, "s": "up"}, {"E": 0.750, "T": 0.0092, "s": "up"},
      {"E": 0.758, "T": 0.0068, "s": "up"}, {"E": 0.764, "T": 0.0127, "s": "up"}, {"E": 0.768, "T": 0.0127, "s": "up"},
      {"E": 0.773, "T": 0.0092, "s": "up"}, {"E": 0.779, "T": 0.0025, "s": "up"}, {"E": 0.792, "T": 0.0006, "s": "up"},
      {"E": 0.811, "T": 0.0004, "s": "up"}, {"E": 0.862, "T": 0.0003, "s": "up"}, {"E": 0.913, "T": 0.0003, "s": "up"},
      {"E": 0.926, "T": 0.0016, "s": "up"}, {"E": 0.936, "T": 0.0003, "s": "up"}, {"E": 0.977, "T": 0.0002, "s": "up"},
      {"E": 1.000, "T": 0.0003, "s": "up"},
      {"E": -1.000, "T": 0.0020, "s": "down"}, {"E": -0.994, "T": 0.0016, "s": "down"}, {"E": -0.985, "T": 0.0022, "s": "down"},
      {"E": -0.974, "T": 0.0016, "s": "down"}, {"E": -0.964, "T": 0.0033, "s": "down"}, {"E": -0.955, "T": 0.0063, "s": "down"},
      {"E": -0.952, "T": 0.0106, "s": "down"}, {"E": -0.946, "T": 0.0123, "s": "down"}, {"E": -0.941, "T": 0.0056, "s": "down"},
      {"E": -0.936, "T": 0.0015, "s": "down"}, {"E": -0.923, "T": 0.0013, "s": "down"}, {"E": -0.898, "T": 0.0012, "s": "down"},
      {"E": -0.847, "T": 0.0011, "s": "down"}, {"E": -0.796, "T": 0.0010, "s": "down"}, {"E": -0.745, "T": 0.0009, "s": "down"},
      {"E": -0.681, "T": 0.0007, "s": "down"}, {"E": -0.617, "T": 0.0006, "s": "down"}, {"E": -0.554, "T": 0.00044, "s": "down"},
      {"E": -0.490, "T": 0.0004, "s": "down"}, {"E": -0.439, "T": 0.00044, "s": "down"}, {"E": -0.432, "T": 0.00064, "s": "down"},
      {"E": -0.423, "T": 0.0003, "s": "down"}, {"E": -0.362, "T": 0.00025, "s": "down"}, {"E": -0.298, "T": 0.0002, "s": "down"},
      {"E": -0.235, "T": 0.00015, "s": "down"}, {"E": -0.107, "T": 0.0001, "s": "down"}, {"E": -0.094, "T": 0.0008, "s": "down"},
      {"E": -0.087, "T": 0.00006, "s": "down"}, {"E": 0.020, "T": 0.00003, "s": "down"}, {"E": 0.263, "T": 0.00003, "s": "down"},
      {"E": 0.273, "T": 0.0009, "s": "down"}, {"E": 0.282, "T": 0.00003, "s": "down"}, {"E": 0.486, "T": 0.00003, "s": "down"},
      {"E": 0.495, "T": 0.00044, "s": "down"}, {"E": 0.505, "T": 0.00003, "s": "down"}, {"E": 0.582, "T": 0.00008, "s": "down"},
      {"E": 0.620, "T": 0.0003, "s": "down"}, {"E": 0.633, "T": 0.0013, "s": "down"}, {"E": 0.639, "T": 0.0021, "s": "down"},
      {"E": 0.648, "T": 0.0003, "s": "down"}, {"E": 0.658, "T": 0.0025, "s": "down"}, {"E": 0.668, "T": 0.0045, "s": "down"},
      {"E": 0.677, "T": 0.0005, "s": "down"}, {"E": 0.690, "T": 0.0009, "s": "down"}, {"E": 0.709, "T": 0.0025, "s": "down"},
      {"E": 0.719, "T": 0.0063, "s": "down"}, {"E": 0.728, "T": 0.0116, "s": "down"}, {"E": 0.735, "T": 0.0092, "s": "down"},
      {"E": 0.741, "T": 0.0121, "s": "down"}, {"E": 0.747, "T": 0.0127, "s": "down"}, {"E": 0.752, "T": 0.0127, "s": "down"},
      {"E": 0.758, "T": 0.0083, "s": "down"}, {"E": 0.767, "T": 0.0054, "s": "down"}, {"E": 0.776, "T": 0.0022, "s": "down"},
      {"E": 0.783, "T": 0.0071, "s": "down"}, {"E": 0.792, "T": 0.0030, "s": "down"}, {"E": 0.798, "T": 0.0059, "s": "down"},
      {"E": 0.805, "T": 0.0025, "s": "down"}, {"E": 0.811, "T": 0.0005, "s": "down"}, {"E": 0.837, "T": 0.0003, "s": "down"},
      {"E": 0.888, "T": 0.0003, "s": "down"}, {"E": 0.952, "T": 0.0002, "s": "down"}, {"E": 0.977, "T": 0.0003, "s": "down"},
      {"E": 1.000, "T": 0.0002, "s": "down"}
    ]
  },
  "spacing": -24,
  "resolve": {"scale": {"x": "independent", "y": "independent", "color": "independent"}},
  "vconcat": [
    {
      "columns": 2,
      "spacing": -9,
      "resolve": {"scale": {"x": "independent", "y": "independent", "color": "independent"}},
      "concat": [
        {
          "title": {"text": "(a)", "dx": -302, "offset": -5},
          "width": 1161, "height": 894,
          "data": {"name": "pa"},
          "layer": [
            {
              "mark": {"type": "line", "clip": true},
              "encoding": {
                "x": {"field": "E", "type": "quantitative", "scale": {"domain": [-1, 1], "nice": false, "zero": false},
                      "axis": {"values": [-1, -0.5, 0, 0.5, 1], "labelExpr": "replace(format(datum.value, '.1f'), '\u2212', '-')", "title": null}},
                "y": {"field": "T", "type": "quantitative", "scale": {"domain": [0, 0.06], "nice": false},
                      "axis": {"values": [0, 0.02, 0.04, 0.06], "format": ".2f", "title": "T(E)", "titlePadding": 64, "labelPadding": 14}},
                "color": {"field": "s", "type": "nominal", "scale": {"domain": ["up", "down"], "range": ["#3B4FA6", "#EC2129"]},
                          "legend": {"legendX": 545, "legendY": 33, "labelExpr": "datum.label == 'up' ? '62.5° PC spin up' : '62.5° PC spin down'"}}
              }
            },
            {
              "mark": {"type": "point", "opacity": 0},
              "encoding": {
                "x": {"field": "E", "type": "quantitative", "axis": {"orient": "bottom", "values": [-0.75, -0.25, 0.25, 0.75], "tickSize": 10, "labels": false, "domain": false, "title": null}},
                "y": {"field": "T", "type": "quantitative", "axis": {"orient": "left", "values": [0.01, 0.03, 0.05], "tickSize": 10, "labels": false, "domain": false, "title": null}}
              }
            }
          ],
          "resolve": {"axis": {"x": "independent", "y": "independent"}}
        },
        {
          "title": {"text": "(b)", "dx": -273, "offset": -5},
          "width": 1161, "height": 891,
          "data": {"name": "pb"},
          "layer": [
            {
              "mark": {"type": "line", "clip": true},
              "encoding": {
                "x": {"field": "E", "type": "quantitative", "scale": {"domain": [-1, 1], "nice": false, "zero": false},
                      "axis": {"values": [-1, -0.5, 0, 0.5, 1], "labelExpr": "replace(format(datum.value, '.1f'), '\u2212', '-')", "title": null}},
                "y": {"field": "T", "type": "quantitative", "scale": {"domain": [0, 0.015], "nice": false},
                      "axis": {"values": [0, 0.005, 0.01, 0.015], "format": ".3f", "title": null, "labelPadding": 9}},
                "color": {"field": "s", "type": "nominal", "scale": {"domain": ["up", "down"], "range": ["#3B4FA6", "#EC2129"]},
                          "legend": {"legendX": 498, "legendY": 18, "labelExpr": "datum.label == 'up' ? '62.5° APC spin up' : '62.5° APC spin down'"}}
              }
            },
            {
              "mark": {"type": "point", "opacity": 0},
              "encoding": {
                "x": {"field": "E", "type": "quantitative", "axis": {"orient": "bottom", "values": [-0.75, -0.25, 0.25, 0.75], "tickSize": 10, "labels": false, "domain": false, "title": null}},
                "y": {"field": "T", "type": "quantitative", "axis": {"orient": "left", "values": [0.0025, 0.0075, 0.0125], "tickSize": 10, "labels": false, "domain": false, "title": null}}
              }
            }
          ],
          "resolve": {"axis": {"x": "independent", "y": "independent"}}
        }
      ]
    },
    {
      "columns": 2,
      "spacing": -9,
      "resolve": {"scale": {"x": "independent", "y": "independent", "color": "independent"}},
      "concat": [
        {
          "title": {"text": "(c)", "dx": -302, "offset": 4},
          "width": 1161, "height": 893,
          "data": {"name": "pc"},
          "layer": [
            {
              "mark": {"type": "line", "clip": true},
              "encoding": {
                "x": {"field": "E", "type": "quantitative", "scale": {"domain": [-1, 1], "nice": false, "zero": false},
                      "axis": {"values": [-1, -0.5, 0, 0.5, 1], "labelExpr": "replace(format(datum.value, '.1f'), '\u2212', '-')", "title": "Energy (eV)", "titlePadding": 42, "titleX": 601}},
                "y": {"field": "T", "type": "quantitative", "scale": {"domain": [0, 0.06], "nice": false},
                      "axis": {"values": [0, 0.02, 0.04, 0.06], "format": ".2f", "title": "T(E)", "titlePadding": 64, "labelPadding": 14}},
                "color": {"field": "s", "type": "nominal", "scale": {"domain": ["up", "down"], "range": ["#3B4FA6", "#EC2129"]},
                          "legend": {"legendX": 551, "legendY": 21, "labelExpr": "datum.label == 'up' ? '83.7° PC spin up' : '83.7° PC spin down'"}}
              }
            },
            {
              "mark": {"type": "point", "opacity": 0},
              "encoding": {
                "x": {"field": "E", "type": "quantitative", "axis": {"orient": "bottom", "values": [-0.75, -0.25, 0.25, 0.75], "tickSize": 10, "labels": false, "domain": false, "title": null}},
                "y": {"field": "T", "type": "quantitative", "axis": {"orient": "left", "values": [0.01, 0.03, 0.05], "tickSize": 10, "labels": false, "domain": false, "title": null}}
              }
            }
          ],
          "resolve": {"axis": {"x": "independent", "y": "independent"}}
        },
        {
          "title": {"text": "(d)", "dx": -273, "offset": 4},
          "width": 1161, "height": 893,
          "data": {"name": "pd"},
          "layer": [
            {
              "mark": {"type": "line", "clip": true},
              "encoding": {
                "x": {"field": "E", "type": "quantitative", "scale": {"domain": [-1, 1], "nice": false, "zero": false},
                      "axis": {"values": [-1, -0.5, 0, 0.5, 1], "labelExpr": "replace(format(datum.value, '.1f'), '\u2212', '-')", "title": "Energy (eV)", "titlePadding": 42, "titleX": 623}},
                "y": {"field": "T", "type": "quantitative", "scale": {"domain": [0, 0.015], "nice": false},
                      "axis": {"values": [0, 0.005, 0.01, 0.015], "format": ".3f", "title": null, "labelPadding": 9}},
                "color": {"field": "s", "type": "nominal", "scale": {"domain": ["up", "down"], "range": ["#3B4FA6", "#EC2129"]},
                          "legend": {"legendX": 500, "legendY": 17, "labelExpr": "datum.label == 'up' ? '83.7° APC spin up' : '83.7° APC spin down'"}}
              }
            },
            {
              "mark": {"type": "point", "opacity": 0},
              "encoding": {
                "x": {"field": "E", "type": "quantitative", "axis": {"orient": "bottom", "values": [-0.75, -0.25, 0.25, 0.75], "tickSize": 10, "labels": false, "domain": false, "title": null}},
                "y": {"field": "T", "type": "quantitative", "axis": {"orient": "left", "values": [0.0025, 0.0075, 0.0125], "tickSize": 10, "labels": false, "domain": false, "title": null}}
              }
            }
          ],
          "resolve": {"axis": {"x": "independent", "y": "independent"}}
        }
      ]
    }
  ],
  "config": {
    "font": "Liberation Sans",
    "view": {"stroke": "black", "strokeWidth": 3.5},
    "line": {"strokeWidth": 5.5},
    "axis": {
      "grid": false, "domainColor": "black", "domainWidth": 3.5, "tickColor": "black", "tickWidth": 3.5, "tickSize": 19,
      "labelFontSize": 58, "labelColor": "black", "labelPadding": 14, "labelFlush": false, "labelOverlap": false,
      "titleFontSize": 72, "titleFontWeight": "normal", "titleColor": "black"
    },
    "legend": {
      "orient": "none", "title": null, "symbolType": "stroke", "symbolSize": 13924, "symbolStrokeWidth": 6,
      "labelFontSize": 52, "labelColor": "black", "labelOffset": 10, "clipHeight": 52, "rowPadding": 12,
      "padding": 8, "labelLimit": 0
    },
    "title": {"fontSize": 86, "fontWeight": "normal", "anchor": "start", "frame": "group", "color": "black", "baseline": "alphabetic"}
  }
}
